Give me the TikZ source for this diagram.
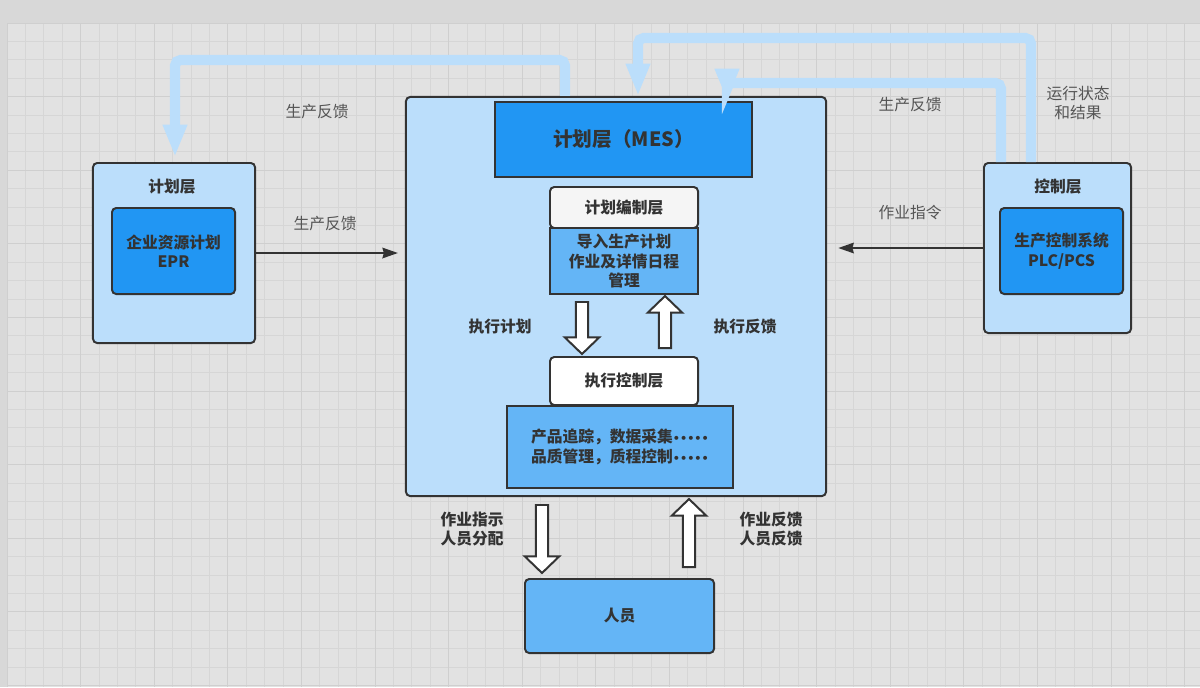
\documentclass[tikz,border=0pt]{standalone}
\usepackage{fontspec}
\setmainfont{Noto Sans CJK SC}
\newfontfamily\dotfont{DejaVu Sans}
\usetikzlibrary{arrows.meta, shapes.arrows, calc}
\definecolor{page_gray}{RGB}{216, 216, 216}
\definecolor{grid_back}{RGB}{226, 226, 226}
\definecolor{grid_minor}{RGB}{214, 214, 214}
\definecolor{grid_major}{RGB}{207, 207, 207}
\definecolor{pale_blue}{RGB}{187, 222, 251}
\definecolor{sky_blue}{RGB}{100, 181, 246}
\definecolor{deep_blue}{RGB}{33, 150, 243}
\definecolor{dark_line}{RGB}{51, 51, 51}
\definecolor{label_gray}{RGB}{85, 85, 85}
\definecolor{cap_white}{RGB}{245, 245, 245}
\newcommand\bodysize{\fontsize{11.2pt}{13.7pt}\selectfont}
\newcommand\moredots{{\dotfont\fontsize{8pt}{8pt}\selectfont •••••}}

\begin{document}
\begin{tikzpicture}[
    x=0.025cm, y=-0.025cm,
    layer/.style={
        rectangle,
        draw=dark_line,
        fill=#1,
        line width=1.4pt,
        rounded corners=3pt,
        inner sep=0pt,
        align=center,
        text=dark_line,
        font=\bodysize\bfseries
    },
    flat/.style={
        layer=#1,
        sharp corners
    },
    caption/.style={
        align=center,
        text=dark_line,
        font=\bodysize\bfseries
    },
    note/.style={
        align=center,
        text=label_gray,
        font=\bodysize
    },
    hollow/.style={
        single arrow,
        draw=dark_line,
        fill=white,
        line width=1.4pt,
        inner sep=0.13cm,
        single arrow tip angle=92,
        single arrow head extend=0.275cm,
        shape border rotate=#1
    },
    thin_arrow/.style={
        draw=dark_line,
        line width=1.4pt,
        -{Stealth[length=11pt, width=7.5pt, inset=1pt]}
    },
    fb_arrow/.style={
        draw=pale_blue,
        line width=7.2pt,
        rounded corners=4pt,
        -{Triangle[width=16pt, length=23pt]}
    }
]

% Background with grid
\useasboundingbox (0,0) rectangle (1200,687);
\fill[page_gray] (0,0) rectangle (1200,687);
\fill[grid_back] (7,23) rectangle (1200,687);
\foreach \i in {0,...,64}
    \draw[grid_minor, line width=0.5pt] ({7+18.4*\i},23) -- ({7+18.4*\i},687);
\foreach \j in {0,...,36}
    \draw[grid_minor, line width=0.5pt] (7,{23+18.4*\j}) -- (1200,{23+18.4*\j});
\foreach \i in {0,...,16}
    \draw[grid_major, line width=0.7pt] ({7+73.6*\i},23) -- ({7+73.6*\i},687);
\foreach \j in {0,...,9}
    \draw[grid_major, line width=0.7pt] (7,{23+73.6*\j}) -- (1200,{23+73.6*\j});

% Left side - planning layer
\node[layer=pale_blue, minimum width=4.05cm, minimum height=4.5cm] (erpbox) at (174,253) {};
\node[caption] (erptitle) at (172,187) {计划层};
\node[layer=deep_blue, minimum width=3.075cm, minimum height=2.15cm] (erp) at (173.5,251) {企业资源计划\\EPR};

% Right side - control layer
\node[layer=pale_blue, minimum width=3.675cm, minimum height=4.25cm] (ctrlbox) at (1057.5,248) {};
\node[caption] (ctrltitle) at (1058,187) {控制层};
\node[layer=deep_blue, minimum width=3.075cm, minimum height=2.15cm] (plc) at (1061.5,251) {生产控制系统\\PLC/PCS};

% Middle - MES
\node[layer=pale_blue, minimum width=10.5cm, minimum height=9.975cm] (mes) at (616,296.5) {};
\node[flat=deep_blue, minimum width=6.425cm, minimum height=1.875cm, font=\fontsize{14pt}{17pt}\selectfont\bfseries] (mesplan) at (623.5,139.5) {计划层（MES）};
\node[layer=cap_white, minimum width=3.7cm, minimum height=1.025cm] (compile) at (624,207.5) {计划编制层};
\node[flat=sky_blue, minimum width=3.7cm, minimum height=1.65cm] (compilebody) at (624,261) {导入生产计划\\作业及详情日程\\管理};
\node[layer=white, minimum width=3.7cm, minimum height=1.2cm] (exec) at (624,381) {执行控制层};
\node[flat=sky_blue, minimum width=5.65cm, minimum height=2.05cm] (execbody) at (620,447) {产品追踪，数据采集\moredots\\品质管理，质程控制\moredots};

% Plan / feedback inside MES
\node[hollow=270, minimum width=0.825cm, minimum height=1.3cm] (plandown) at (582,325) {};
\node[hollow=90, minimum width=0.825cm, minimum height=1.3cm] (backup) at (665,325) {};
\node[caption] (planlabel) at (500,327) {执行计划};
\node[caption] (backlabel) at (745,327) {执行反馈};

% Bottom - staff
\node[layer=sky_blue, minimum width=4.725cm, minimum height=1.85cm] (staff) at (619.5,616) {人员};
\node[hollow=270, minimum width=0.8cm, minimum height=1.7cm] (taskdown) at (542,536) {};
\node[hollow=90, minimum width=0.8cm, minimum height=1.7cm] (taskup) at (689,536) {};
\node[caption] (tasklabel) at (472,529) {作业指示\\人员分配};
\node[caption] (replylabel) at (771,529) {作业反馈\\人员反馈};

% Thin arrows
\draw[thin_arrow, shorten >=5pt] (erpbox.east) -- (erpbox.east -| mes.west);
\node[note] (erpnote) at (325,224) {生产反馈};
\draw[thin_arrow, shorten >=8pt] (ctrlbox.west) -- (ctrlbox.west -| mes.east);
\node[note] (ctrlnote) at (910,213) {作业指令};

% Feedback loops on top
\draw[fb_arrow] ($(mes.north)+(-51,0)$) -- ($(mes.north)+(-51,-36)$) -| ($(erpbox.north)+(1,-5)$);
\draw[fb_arrow] ($(ctrlbox.north)+(-26.5,0)$) -- ($(ctrlbox.north)+(-26.5,-124)$) -| ($(mes.north)+(22,0)$);
\draw[fb_arrow] ($(ctrlbox.north)+(-56.5,0)$) -- ($(ctrlbox.north)+(-56.5,-79)$) -| ($(mesplan.north)+(103.5,0)$);
\node[note] (topnote) at (317,112) {生产反馈};
\node[note] (rightnote) at (910,105) {生产反馈};
\node[note] (statenote) at (1078,103) {运行状态\\和结果};

\end{tikzpicture}
\end{document}
